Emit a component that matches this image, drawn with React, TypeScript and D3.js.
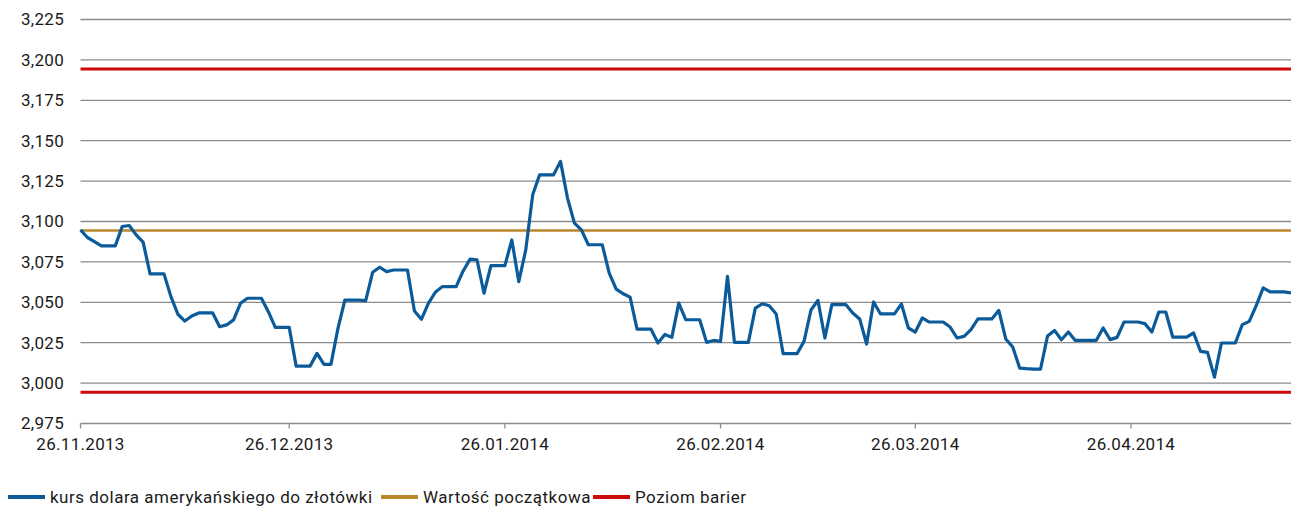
import { useMemo } from 'react';
import * as d3 from 'd3';

// daily USD/PLN fixing, 26.11.2013 onwards (weekends carry the Friday value)
const startDate = new Date(Date.UTC(2013, 10, 26));
const rates = [
    3.0948, 3.0901, 3.0876, 3.0849, 3.0849, 3.0849, 3.0969, 3.0975, 3.0917, 3.0872,
    3.0676, 3.0676, 3.0676, 3.0535, 3.0426, 3.0384, 3.0415, 3.0434, 3.0434, 3.0434,
    3.0349, 3.0360, 3.0391, 3.0494, 3.0525, 3.0525, 3.0525, 3.0442, 3.0345, 3.0345,
    3.0345, 3.0105, 3.0105, 3.0105, 3.0184, 3.0116, 3.0116, 3.0337, 3.0514, 3.0514,
    3.0514, 3.0510, 3.0686, 3.0717, 3.0690, 3.0700, 3.0700, 3.0700, 3.0446, 3.0395,
    3.0494, 3.0562, 3.0597, 3.0597, 3.0597, 3.0694, 3.0767, 3.0762, 3.0556, 3.0727,
    3.0727, 3.0727, 3.0886, 3.0628, 3.0824, 3.1165, 3.1289, 3.1289, 3.1289, 3.1372,
    3.1145, 3.0990, 3.0948, 3.0856, 3.0856, 3.0856, 3.0681, 3.0582, 3.0553, 3.0532,
    3.0334, 3.0334, 3.0334, 3.0248, 3.0301, 3.0283, 3.0495, 3.0392, 3.0392, 3.0392,
    3.0252, 3.0264, 3.0258, 3.0660, 3.0252, 3.0252, 3.0252, 3.0464, 3.0491, 3.0479,
    3.0427, 3.0182, 3.0182, 3.0182, 3.0258, 3.0452, 3.0512, 3.0279, 3.0486, 3.0486,
    3.0486, 3.0434, 3.0397, 3.0242, 3.0502, 3.0428, 3.0428, 3.0428, 3.0490, 3.0341,
    3.0316, 3.0403, 3.0378, 3.0378, 3.0378, 3.0347, 3.0279, 3.0289, 3.0331, 3.0397,
    3.0397, 3.0397, 3.0450, 3.0273, 3.0223, 3.0093, 3.0089, 3.0087, 3.0087, 3.0291,
    3.0326, 3.0268, 3.0316, 3.0264, 3.0264, 3.0264, 3.0264, 3.0341, 3.0269, 3.0283,
    3.0378, 3.0378, 3.0378, 3.0368, 3.0316, 3.0440, 3.0440, 3.0285, 3.0285, 3.0285,
    3.0310, 3.0196, 3.0190, 3.0037, 3.0248, 3.0248, 3.0248, 3.0362, 3.0382, 3.0479,
    3.0589, 3.0564, 3.0564, 3.0564, 3.0558,
];
const initialValue = 3.0944;
const barrierLevels = [3.1944, 2.9944];
const yTicks = [2.975, 3.0, 3.025, 3.05, 3.075, 3.1, 3.125, 3.15, 3.175, 3.2, 3.225];
const xTicks = [
    new Date(Date.UTC(2013, 10, 26)),
    new Date(Date.UTC(2013, 11, 26)),
    new Date(Date.UTC(2014, 0, 26)),
    new Date(Date.UTC(2014, 1, 26)),
    new Date(Date.UTC(2014, 2, 26)),
    new Date(Date.UTC(2014, 3, 26)),
];
const legendLabels = ['kurs dolara amerykańskiego do złotówki', 'Wartość początkowa', 'Poziom barier'];

const W = 1291;
const H = 508;
const FONT = 'Roboto, sans-serif';
const BLUE = '#0b5a99';
const GOLD = '#b8862b';
const RED = '#cc0a0a';
const GRID = '#8c8c8c';
const TEXT = '#1a1a1a';

export default function App() {
    const plot = { left: 80.5, right: 1291, top: 19.5, bottom: 423.5 };

    const points = useMemo(
        () => rates.map((v, i) => ({ date: d3.utcDay.offset(startDate, i), value: v })),
        []
    );

    const x = d3.scaleUtc()
        .domain([startDate, points[points.length - 1].date])
        .range([plot.left, plot.right]);
    const y = d3.scaleLinear()
        .domain([2.975, 3.225])
        .range([plot.bottom, plot.top]);

    const line = d3.line<{ date: Date; value: number }>()
        .x(d => x(d.date))
        .y(d => y(d.value));

    const fmtY = (v: number) => d3.format('.3f')(v).replace('.', ',');
    const fmtX = d3.utcFormat('%d.%m.%Y');

    const legendX = [8, 381, 593];

    return (
        <svg width={W} height={H} style={{ position: 'absolute', left: 0, top: 0 }} fontFamily={FONT}>
            <rect width={W} height={H} fill="white" />
            {yTicks.map(t => (
                <g key={t}>
                    <line x1={plot.left} x2={plot.right} y1={y(t)} y2={y(t)} stroke={GRID} strokeWidth={1.3} />
                    <text x={64} y={y(t)} dy="0.35em" textAnchor="end" fontSize={17} letterSpacing={0.3} fill={TEXT}>{fmtY(t)}</text>
                </g>
            ))}
            {xTicks.map(t => (
                <g key={t.getTime()}>
                    <line x1={x(t)} x2={x(t)} y1={plot.bottom} y2={plot.bottom + 5} stroke={GRID} strokeWidth={1.3} />
                    <text x={x(t)} y={450} textAnchor="middle" fontSize={17} letterSpacing={0.3} fill={TEXT}>{fmtX(t)}</text>
                </g>
            ))}
            <line x1={plot.left} x2={plot.right} y1={y(initialValue)} y2={y(initialValue)} stroke={GOLD} strokeWidth={2.5} />
            {barrierLevels.map(b => (
                <line key={b} x1={plot.left} x2={plot.right} y1={y(b)} y2={y(b)} stroke={RED} strokeWidth={3} />
            ))}
            <path d={line(points) ?? ''} fill="none" stroke={BLUE} strokeWidth={3.2} strokeLinejoin="round" />
            {legendLabels.map((label, i) => (
                <g key={label} transform={`translate(${legendX[i]},497)`}>
                    <line x1={0} x2={37} y1={0} y2={0} stroke={[BLUE, GOLD, RED][i]} strokeWidth={4} />
                    <text x={42} y={0} dy="0.35em" fontSize={17} letterSpacing={0.5} fill={TEXT}>{label}</text>
                </g>
            ))}
        </svg>
    );
}
